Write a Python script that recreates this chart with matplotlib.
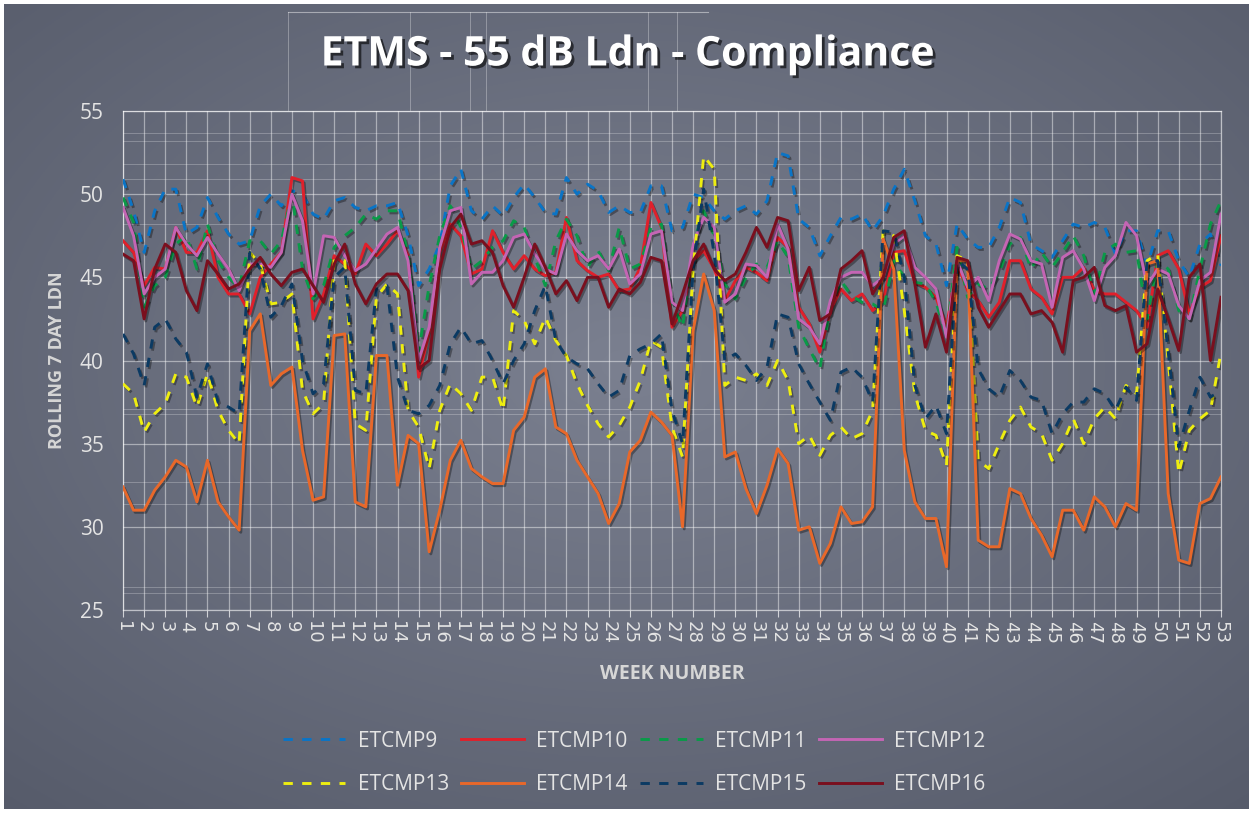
import numpy as np
import matplotlib
matplotlib.use("Agg")
import matplotlib.pyplot as plt
import matplotlib.patheffects as pe
from matplotlib.lines import Line2D

# ---------------- data (half-week samples, weeks 1 .. 53) ----------------
weeks = np.arange(1, 53.01, 0.5)

etcmp9 = [50.9, 49.0, 46.5, 49.0, 50.3, 50.3, 47.6, 48.0, 49.8, 48.6, 47.6, 47.0, 47.2, 49.3,
          50.0, 49.3, 50.2, 50.0, 48.8, 48.5, 49.6, 49.8, 49.2, 49.0, 49.3, 49.3,
          49.5, 47.5, 44.5, 45.5, 47.0, 50.5, 51.5, 49.0, 48.5, 49.3, 48.7, 49.8, 50.6, 49.8,
          48.9, 48.8, 51.0, 50.0, 50.6, 50.2, 48.9, 49.3, 48.9, 48.9, 50.5, 50.5, 47.8,
          48.0, 50.0, 49.8, 49.0, 48.5, 49.0, 49.3, 48.8, 49.6, 52.5, 52.3, 48.5, 48.0,
          46.3, 47.5, 48.6, 48.5, 48.8, 47.8, 48.7, 50.3, 51.5, 49.6, 47.5, 47.0, 44.5,
          48.2, 47.3, 46.8, 46.8, 48.0, 49.8, 49.5, 47.0, 46.6, 46.2, 47.2, 48.2, 48.0, 48.3,
          48.0, 46.4, 47.8, 47.8, 45.7, 47.8, 47.8, 46.0, 45.0, 47.0, 47.6, 45.7]

etcmp10 = [47.2, 46.5, 44.5, 45.6, 45.5, 48.0, 46.5, 46.5, 47.8, 45.0, 44.0, 44.0, 42.8, 45.0,
           45.8, 46.5, 51.0, 50.8, 42.5, 44.0, 46.3, 45.8, 45.2, 47.0, 46.3, 47.0,
           47.8, 46.3, 39.0, 41.7, 46.5, 48.2, 47.5, 45.2, 45.5, 47.8, 46.5, 45.5, 46.3, 45.5,
           45.1, 45.3, 48.6, 46.0, 45.4, 45.0, 45.2, 44.2, 44.3, 45.6, 49.5, 48.0, 42.0,
           43.0, 46.0, 46.6, 45.5, 43.6, 44.8, 45.6, 45.3, 44.8, 47.4, 46.8, 43.2, 42.2,
           40.5, 43.0, 44.3, 43.6, 44.0, 43.0, 43.6, 46.5, 46.6, 44.7, 44.4, 43.8, 42.0,
           45.8, 44.2, 43.6, 42.6, 43.5, 46.0, 46.0, 44.3, 43.8, 42.8, 45.0, 45.0, 45.6, 44.2,
           44.0, 44.0, 43.5, 43.0, 42.0, 46.3, 46.6, 45.5, 42.8, 44.4, 44.8, 47.5]

etcmp11 = [49.8, 48.3, 43.2, 44.5, 45.0, 47.0, 47.5, 45.5, 48.2, 46.0, 45.0, 44.4, 47.2, 47.2,
           46.4, 47.2, 50.0, 45.5, 43.7, 44.5, 46.8, 47.5, 48.0, 48.8, 48.5, 49.0,
           49.0, 46.4, 40.5, 44.5, 47.5, 49.3, 48.0, 45.5, 46.0, 46.8, 47.2, 48.4, 48.0, 46.2,
           44.5, 47.2, 48.5, 47.5, 45.6, 46.6, 45.4, 48.0, 45.5, 45.8, 48.0, 48.2, 43.5,
           42.0, 47.0, 49.0, 47.5, 44.6, 43.7, 45.0, 45.8, 45.6, 47.2, 46.2, 42.0, 40.7,
           39.5, 43.3, 44.8, 43.9, 43.5, 43.4, 43.0, 46.0, 45.0, 44.7, 44.6, 43.5, 41.5,
           46.8, 43.8, 44.6, 44.3, 45.3, 47.0, 47.4, 45.5, 46.5, 45.6, 46.5, 47.5, 46.3, 44.0,
           46.5, 47.0, 46.5, 46.6, 42.5, 46.0, 45.5, 43.0, 42.5, 45.5, 48.2, 49.6]

etcmp12 = [49.2, 47.5, 44.0, 45.0, 45.5, 48.0, 47.0, 46.3, 47.4, 46.4, 45.5, 44.2, 45.8, 45.8,
           45.6, 46.5, 50.0, 48.4, 44.0, 47.5, 47.4, 46.3, 45.4, 45.8, 46.7, 47.6,
           48.0, 46.0, 40.0, 42.0, 46.8, 49.0, 49.2, 44.6, 45.3, 45.3, 46.0, 47.4, 47.6, 46.4,
           45.5, 45.2, 47.6, 46.6, 46.0, 46.3, 45.5, 46.7, 44.6, 45.2, 47.6, 47.8, 43.5,
           43.0, 47.0, 48.6, 48.0, 43.5, 44.0, 45.8, 45.7, 45.0, 48.2, 46.7, 42.5, 42.0,
           41.0, 43.6, 45.0, 45.3, 45.3, 44.5, 45.0, 47.0, 47.5, 45.6, 45.0, 44.3, 41.4,
           46.0, 44.4, 45.0, 43.6, 46.0, 47.6, 47.3, 46.0, 45.8, 43.2, 46.2, 46.6, 45.5, 43.6,
           45.6, 46.3, 48.3, 47.5, 44.5, 45.5, 45.2, 43.3, 42.5, 44.8, 45.3, 48.8]

etcmp13 = [38.6, 38.0, 35.7, 36.8, 37.4, 39.2, 39.0, 37.2, 39.2, 37.0, 35.8, 35.0, 46.5, 45.8,
           43.4, 43.5, 44.0, 38.2, 36.8, 37.4, 46.0, 46.0, 36.2, 35.8, 43.8, 44.6,
           44.0, 37.0, 36.0, 33.5, 37.0, 38.6, 38.0, 37.0, 39.0, 39.0, 37.0, 43.0, 42.4, 41.0,
           42.6, 41.2, 40.3, 38.6, 37.3, 36.2, 35.4, 36.1, 37.2, 38.8, 41.2, 40.8, 36.0,
           34.2, 45.5, 52.3, 51.5, 38.5, 39.0, 38.8, 39.2, 38.5, 40.0, 38.8, 35.0, 35.5,
           34.3, 35.5, 36.0, 35.3, 35.6, 37.0, 47.8, 47.5, 43.0, 38.0, 35.8, 35.5, 33.7,
           46.3, 46.0, 34.0, 33.5, 35.0, 36.4, 37.2, 36.0, 35.6, 34.0, 35.0, 36.5, 35.0, 36.5,
           37.2, 36.5, 38.5, 38.0, 46.0, 46.4, 40.0, 33.2, 35.8, 36.5, 37.0, 40.5]

etcmp14 = [32.4, 31.0, 31.0, 32.2, 33.0, 34.0, 33.6, 31.5, 34.0, 31.5, 30.6, 29.8, 41.8, 42.8,
           38.5, 39.2, 39.6, 34.6, 31.6, 31.8, 41.5, 41.6, 31.5, 31.2, 40.3, 40.3,
           32.5, 35.5, 35.0, 28.5, 31.0, 34.0, 35.2, 33.5, 33.0, 32.6, 32.6, 35.8, 36.6, 39.0,
           39.5, 36.0, 35.6, 34.0, 33.0, 32.0, 30.2, 31.4, 34.5, 35.2, 36.9, 36.3, 35.5,
           30.0, 41.8, 45.2, 43.0, 34.2, 34.5, 32.3, 30.8, 32.5, 34.7, 33.8, 29.8, 30.0,
           27.8, 29.0, 31.2, 30.2, 30.3, 31.2, 47.3, 45.5, 34.6, 31.5, 30.5, 30.5, 27.6,
           46.0, 46.0, 29.2, 28.8, 28.8, 32.3, 32.0, 30.5, 29.5, 28.2, 31.0, 31.0, 29.8, 31.8,
           31.2, 30.0, 31.4, 31.0, 45.8, 46.0, 32.0, 28.0, 27.8, 31.4, 31.7, 33.0]

etcmp15 = [41.6, 40.4, 38.5, 42.0, 42.5, 41.3, 40.5, 37.8, 39.8, 37.5, 37.2, 36.8, 46.5, 45.5,
           42.6, 43.3, 44.6, 40.0, 38.0, 38.6, 45.0, 45.6, 38.2, 38.0, 44.3, 44.5,
           39.0, 37.0, 36.8, 37.3, 38.5, 41.0, 42.0, 41.0, 41.2, 40.0, 38.6, 40.0, 41.0, 43.0,
           44.5, 41.2, 40.2, 39.8, 39.5, 38.6, 37.8, 38.2, 40.3, 40.7, 41.0, 41.6, 37.0,
           35.0, 45.5, 50.3, 46.4, 40.0, 40.4, 39.7, 38.8, 39.6, 42.8, 42.6, 39.8, 38.6,
           37.5, 36.4, 39.3, 39.6, 39.0, 37.5, 47.8, 47.7, 45.0, 38.5, 36.5, 37.3, 35.6,
           46.0, 45.5, 39.5, 38.3, 37.8, 39.4, 38.8, 37.8, 37.6, 35.6, 36.8, 37.5, 37.5, 38.3,
           38.0, 37.0, 38.4, 37.6, 46.0, 46.0, 40.5, 34.8, 37.0, 39.0, 37.8, 38.2]

etcmp16 = [46.4, 46.0, 42.5, 45.5, 47.0, 46.5, 44.2, 43.0, 46.0, 45.2, 44.3, 44.6, 45.5, 46.2,
           45.2, 44.5, 45.3, 45.5, 44.5, 43.5, 45.8, 47.0, 44.6, 43.4, 44.6, 45.2,
           45.2, 44.2, 39.5, 40.0, 45.5, 48.0, 48.8, 47.0, 47.2, 46.5, 44.5, 43.2, 45.0, 47.0,
           45.6, 44.0, 44.8, 43.6, 45.0, 45.0, 43.2, 44.3, 44.0, 44.7, 46.2, 46.0, 42.2,
           44.0, 46.0, 47.0, 45.5, 44.8, 45.2, 46.5, 48.0, 46.8, 48.6, 48.4, 44.2, 45.6,
           42.4, 42.8, 45.5, 46.0, 46.6, 44.0, 45.0, 47.4, 47.8, 44.6, 40.8, 42.8, 40.5,
           46.2, 46.0, 43.2, 42.0, 43.0, 44.0, 44.0, 42.8, 43.0, 42.3, 40.5, 44.8, 45.0, 45.6,
           43.3, 43.0, 43.3, 40.5, 41.0, 44.3, 42.5, 40.6, 45.0, 45.8, 40.0, 43.8]

series_names = ["ETCMP9", "ETCMP10", "ETCMP11", "ETCMP12",
                "ETCMP13", "ETCMP14", "ETCMP15", "ETCMP16"]
series_values = [etcmp9, etcmp10, etcmp11, etcmp12, etcmp13, etcmp14, etcmp15, etcmp16]
week_ticks = list(range(1, 54))
y_ticks = [25, 30, 35, 40, 45, 50, 55]

# ---------------- styles ----------------
colors = ["#0a74c6", "#e0202b", "#0a9a48", "#c465b4",
          "#eeee10", "#e8682a", "#0b3a63", "#7a0f1e"]
dashed = [True, False, True, False, True, False, True, False]

W, H = 1253, 813
fig = plt.figure(figsize=(W / 100, H / 100), dpi=100)
fig.patch.set_facecolor("white")

# background radial gradient
bg = fig.add_axes([4 / W, 4 / H, 1 - 8 / W, 1 - 8 / H])
bg.set_axis_off()
gy, gx = np.mgrid[0:1:400j, 0:1:600j]
r = np.sqrt(((gx - 0.5) / 0.75) ** 2 + ((gy - 0.55) / 0.75) ** 2)
r = np.clip(r, 0, 1)
c_in = np.array([123, 128, 144]) / 255
c_out = np.array([86, 91, 106]) / 255
img = c_in[None, None, :] * (1 - r[..., None]) + c_out[None, None, :] * r[..., None]
bg.imshow(img, aspect="auto", extent=[0, 1, 0, 1], origin="lower")
bg.set_xlim(0, 1)
bg.set_ylim(0, 1)

# faint artefact lines behind title
for xx in [288, 410, 470, 486, 648, 677]:
    fig.add_artist(Line2D([xx / W, xx / W], [1 - 12 / H, 1 - 110 / H],
                          color="white", lw=0.6, alpha=0.35))
fig.add_artist(Line2D([288 / W, 708 / W], [1 - 12 / H, 1 - 12 / H],
                      color="white", lw=0.8, alpha=0.45))

ax = fig.add_axes([123 / W, 1 - 610 / H, 1098 / W, 499 / H])
ax.set_facecolor("none")
ax.set_xlim(1, 53)
ax.set_ylim(25, 55)

# grid
for wk in week_ticks:
    ax.axvline(wk, color="white", lw=0.9, alpha=0.45, zorder=1)
for yv in y_ticks:
    ax.axhline(yv, color="white", lw=0.9, alpha=0.45, zorder=1)
for yv in [53.7, 53.2, 51.8, 50.9, 48.2, 37.1, 36.8, 32.7, 31.4, 26.4, 26.0]:
    ax.axhline(yv, color="white", lw=0.7, alpha=0.25, zorder=1)

shadow = [pe.SimpleLineShadow(offset=(1.2, -1.5), shadow_color="black", alpha=0.35),
          pe.Normal()]
for name, vals, col, dsh in zip(series_names, series_values, colors, dashed):
    ls = (0, (3.2, 3.2)) if dsh else "-"
    ax.plot(weeks, vals, color=col, lw=2.1, ls=ls, label=name, zorder=3,
            path_effects=shadow, solid_joinstyle="round")

for s in ax.spines.values():
    s.set_color((1, 1, 1, 0.6))
    s.set_linewidth(0.9)

ax.set_xticks(week_ticks)
ax.set_xticklabels([str(w) for w in week_ticks], rotation=270, fontsize=13,
                   color="#e4e4e4", family="DejaVu Sans")
ax.set_yticks(y_ticks)
ax.set_yticklabels([str(v) for v in y_ticks], fontsize=15, color="#e4e4e4",
                   family="Open Sans")
ax.tick_params(axis="x", length=5, color=(1, 1, 1, 0.7), pad=3)
ax.tick_params(axis="y", length=0, pad=14)

ax.set_xlabel("WEEK NUMBER", fontsize=14, fontweight="bold", color="#d6d6d6",
              family="Open Sans", labelpad=14)
ax.set_ylabel("ROLLING 7 DAY LDN", fontsize=13, fontweight="bold", color="#d6d6d6",
              family="Open Sans", labelpad=10)

fig.text(628 / W, 1 - 55 / H, "ETMS - 55 dB Ldn - Compliance", ha="center", va="center",
         fontsize=29.5, fontweight="bold", color="white", family="Open Sans",
         path_effects=[pe.SimplePatchShadow(offset=(2, -2), shadow_rgbFace="black", alpha=0.6),
                       pe.Normal()])

# legend: row-major order (4 columns x 2 rows)
handles, labels = ax.get_legend_handles_labels()
order = [0, 4, 1, 5, 2, 6, 3, 7]
leg = fig.legend([handles[i] for i in order], [labels[i] for i in order],
                 ncol=4, loc="center", frameon=False,
                 bbox_to_anchor=(0.506, 1 - 763 / H),
                 handlelength=3.0, handletextpad=0.6, columnspacing=0.6,
                 labelspacing=1.1, prop={"family": "Open Sans", "size": 15})
for t in leg.get_texts():
    t.set_color("#e4e4e4")
for h in leg.get_lines():
    h.set_path_effects([])

fig.savefig("out.png", dpi=100, facecolor=fig.get_facecolor())
